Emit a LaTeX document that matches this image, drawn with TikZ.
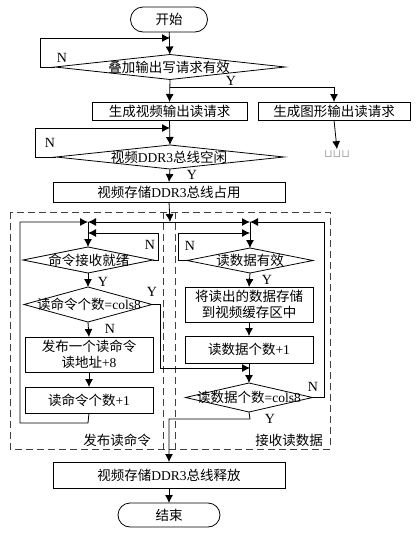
\documentclass[tikz,border=0pt]{standalone}
\usepackage{fontspec}
\setmainfont{Liberation Serif}
\newfontfamily\cjk{Noto Sans CJK SC}
\newfontfamily\djv{DejaVu Sans}
\usetikzlibrary{shapes.geometric,shapes.misc,arrows.meta}
\newcommand{\zh}[1]{{\cjk #1}}
\tikzset{
  box/.style={draw, rectangle, inner sep=0pt, outer sep=0pt, align=center},
  dia/.style={draw, diamond, inner sep=0pt, outer sep=0pt},
  term/.style={draw, rounded rectangle, inner sep=0pt, outer sep=0pt},
  arr/.style={-{Latex[length=8pt,width=8pt]}},
  lbl/.style={inner sep=0pt, font=\fontsize{14}{16}\selectfont},
  zone/.style={dash pattern=on 7pt off 4pt, draw=black!75, line width=0.8pt},
}
\begin{document}
\begin{tikzpicture}[x=1pt,y=-1pt, line width=0.8pt, font=\fontsize{13.5}{16}\selectfont]
\useasboundingbox (0,0) rectangle (420,544);
% dashed zones
\draw[zone] (10,212) rectangle (330,449);
\draw[zone] (163,212) -- (163,449);
\draw[zone] (175,212) -- (175,449);
\node[inner sep=0pt] (zl) at (117,440) {\zh{发布读命令}};
\node[inner sep=0pt] (zr) at (289,440) {\zh{接收读数据}};

% top part
\node[term, minimum width=77pt, minimum height=25pt] (start) at (169,19.5) {\zh{开始}};
\node[dia, minimum width=230pt, minimum height=25pt] (d1) at (170,67) {};
\node[inner sep=0pt] (d1t) at (169,67) {\zh{叠加输出写请求有效}};
\node[box, minimum width=155pt, minimum height=18pt] (b1) at (169.5,111) {\zh{生成视频输出读请求}};
\node[box, minimum width=152pt, minimum height=18pt] (b2) at (334,111) {\zh{生成图形输出读请求}};
\node[inner sep=1pt, text=black!35, font=\djv\fontsize{11}{12}\selectfont] (dots) at (337,154) {⊔⊔⊔};
\node[dia, minimum width=228pt, minimum height=24pt] (d2) at (170,157) {};
\node[inner sep=0pt] (d2t) at (169,157) {\zh{视频}DDR3\zh{总线空闲}};
\node[box, minimum width=232pt, minimum height=20pt] (b3) at (169,192) {\zh{视频存储}DDR3\zh{总线占用}};

\coordinate (j1) at (170,38);
\coordinate (j2) at (170,87);
\coordinate (j3) at (170,128);
\draw[arr] (start) -- (d1);
\draw[arr] (d1.west) -- (40,67) |- (j1);
\draw[arr] (d1.south) -- (b1.north);
\draw[arr] (j2) -| (b2.north);
\draw[arr] (b2.south) -- (dots.north);
\draw[arr] (b1.south) -- (d2.north);
\draw[arr] (d2.west) -- (35,157) |- (j3);
\draw[arr] (d2.south) -- (b3.north);
\node[lbl] (n1) at (62,58) {N};
\node[lbl] (y1) at (231,81) {Y};
\node[lbl] (n2) at (50,143) {N};
\node[lbl] (y2) at (192,175) {Y};

% split
\coordinate (sp) at (170,222);
\coordinate (la) at (88,222);
\coordinate (lb) at (88,233);
\coordinate (ra) at (250,222);
\coordinate (rb) at (250,233);
\draw[arr] (b3.south) -- (sp);
\draw[arr] (sp) -- (la);
\draw[arr] (sp) -- (ra);

% left column
\node[dia, minimum width=130pt, minimum height=26pt] (d3) at (88,260) {};
\node[inner sep=0pt] (d3t) at (89,260) {\zh{命令接收就绪}};
\node[dia, minimum width=128pt, minimum height=35pt] (d4) at (88,304.5) {};
\node[inner sep=0pt] (d4t) at (89,304.5) {\zh{读命令个数}=cols8};
\node[box, minimum width=128pt, minimum height=35pt] (b4) at (89,354.5) {\zh{发布一个读命令}\\\zh{读地址}+8};
\node[box, minimum width=128pt, minimum height=26pt] (b5) at (89,400) {\zh{读命令个数}+1};
\draw (la) -- (lb);
\draw[arr] (lb) -- (d3.north);
\draw[arr] (d3.east) -- (158,260) |- (lb);
\draw[arr] (d3.south) -- (d4.north);
\draw[arr] (d4.south) -- (b4.north);
\draw[arr] (b4.south) -- (b5.north);
\draw[arr] (b5.south) -- (88,423) -| (20,300) |- (la);
\node[lbl] (n3) at (150,245) {N};
\node[lbl] (y3) at (103,282) {Y};
\node[lbl] (y4) at (152,292) {Y};
\node[lbl] (n4) at (110,329) {N};

% right column
\node[dia, minimum width=126pt, minimum height=25pt] (d5) at (250,260.5) {};
\node[inner sep=0pt] (d5t) at (250,260.5) {\zh{读数据有效}};
\node[box, minimum width=128pt, minimum height=35pt] (b6) at (249,304.5) {\zh{将读出的数据存储}\\\zh{到视频缓存区中}};
\node[box, minimum width=128pt, minimum height=27pt] (b7) at (249,349.5) {\zh{读数据个数}+1};
\node[dia, minimum width=127pt, minimum height=29pt] (d6) at (249,397.5) {};
\node[inner sep=0pt] (d6t) at (249,397.5) {\zh{读数据个数}=cols8};
\coordinate (rc) at (250,368);
\draw (ra) -- (rb);
\draw[arr] (rb) -- (d5.north);
\draw[arr] (d5.west) -- (178,260.5) |- (rb);
\draw[arr] (d5.south) -- (b6.north);
\draw[arr] (b6.south) -- (b7.north);
\draw[arr] (b7.south) -- (d6.north);
\draw[arr] (d4.east) -- (160,304.5) |- (rc);
\draw[arr] (d6.east) -- (324,397.5) |- (ra);
\node[lbl] (n5) at (190,246) {N};
\node[lbl] (y5) at (267,280) {Y};
\node[lbl] (n6) at (313,387) {N};
\node[lbl] (y6) at (270,419) {Y};

% bottom
\node[box, minimum width=232pt, minimum height=26pt] (b8) at (169,475) {\zh{视频存储}DDR3\zh{总线释放}};
\node[term, minimum width=102pt, minimum height=24pt] (end) at (169,515) {\zh{结束}};
\draw[arr] (d6.south) -- (250,419) -| (b8.north);
\draw[arr] (b8.south) -- (end.north);
\end{tikzpicture}
\end{document}
